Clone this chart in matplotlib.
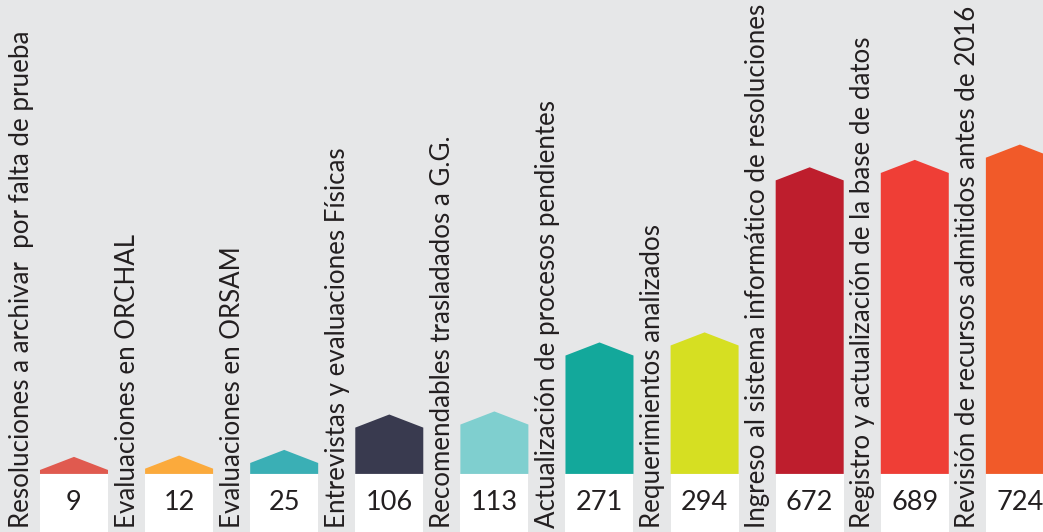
import numpy as np
import matplotlib.pyplot as plt
from matplotlib.patches import Polygon, Rectangle


# data
labels = ['Resoluciones a archivar  por falta de prueba',
          'Evaluaciones en ORCHAL',
          'Evaluaciones en ORSAM',
          'Entrevistas y evaluaciones Físicas',
          'Recomendables trasladados a G.G.',
          'Actualización de procesos pendientes',
          'Requerimientos analizados',
          'Ingreso al sistema informático de resoluciones',
          'Registro y actualización de la base de datos',
          'Revisión de recursos admitidos antes de 2016']
values = [9, 12, 25, 106, 113, 271, 294, 672, 689, 724]
colors = ['#e05a4f', '#fbaa3c', '#3aafb5', '#393a4f', '#7fcfcf',
          '#13a89b', '#d6df22', '#be1e2d', '#ef3e36', '#f15a29']

bg = '#e6e7e8'
txt = '#231f20'
w = 0.647      # bar width
roof = 30      # height of the roof tip above the shoulder
box = 133      # white box below the bars

fig = plt.figure(figsize=(10.43, 5.32), dpi=100)
fig.patch.set_facecolor(bg)
ax = fig.add_axes([0, 0, 1, 1])
ax.set_facecolor(bg)
ax.set_xlim(-0.704, 9.22)
ax.set_ylim(-box, 1085)
ax.axis('off')

for i, (lab, v, c) in enumerate(zip(labels, values, colors)):
  x0, x1 = i - w/2, i + w/2
  house = Polygon([(x0, 0), (x0, v), (i, v + roof), (x1, v), (x1, 0)],
                  closed=True, facecolor=c, edgecolor='none')
  ax.add_patch(house)
  ax.add_patch(Rectangle((x0, -box - 10), w, box + 10, facecolor='white',
                         edgecolor='none', zorder=3))
  ax.text(i, -65, str(v), ha='center', va='center', fontsize=19.5,
          color=txt, family='Lato', zorder=4)
  ax.text(x0 - 0.172, -124, lab, rotation=90, ha='center', va='bottom',
          fontsize=18.6, color=txt, family='Lato')

plt.savefig('out.png', dpi=100, facecolor=bg)
